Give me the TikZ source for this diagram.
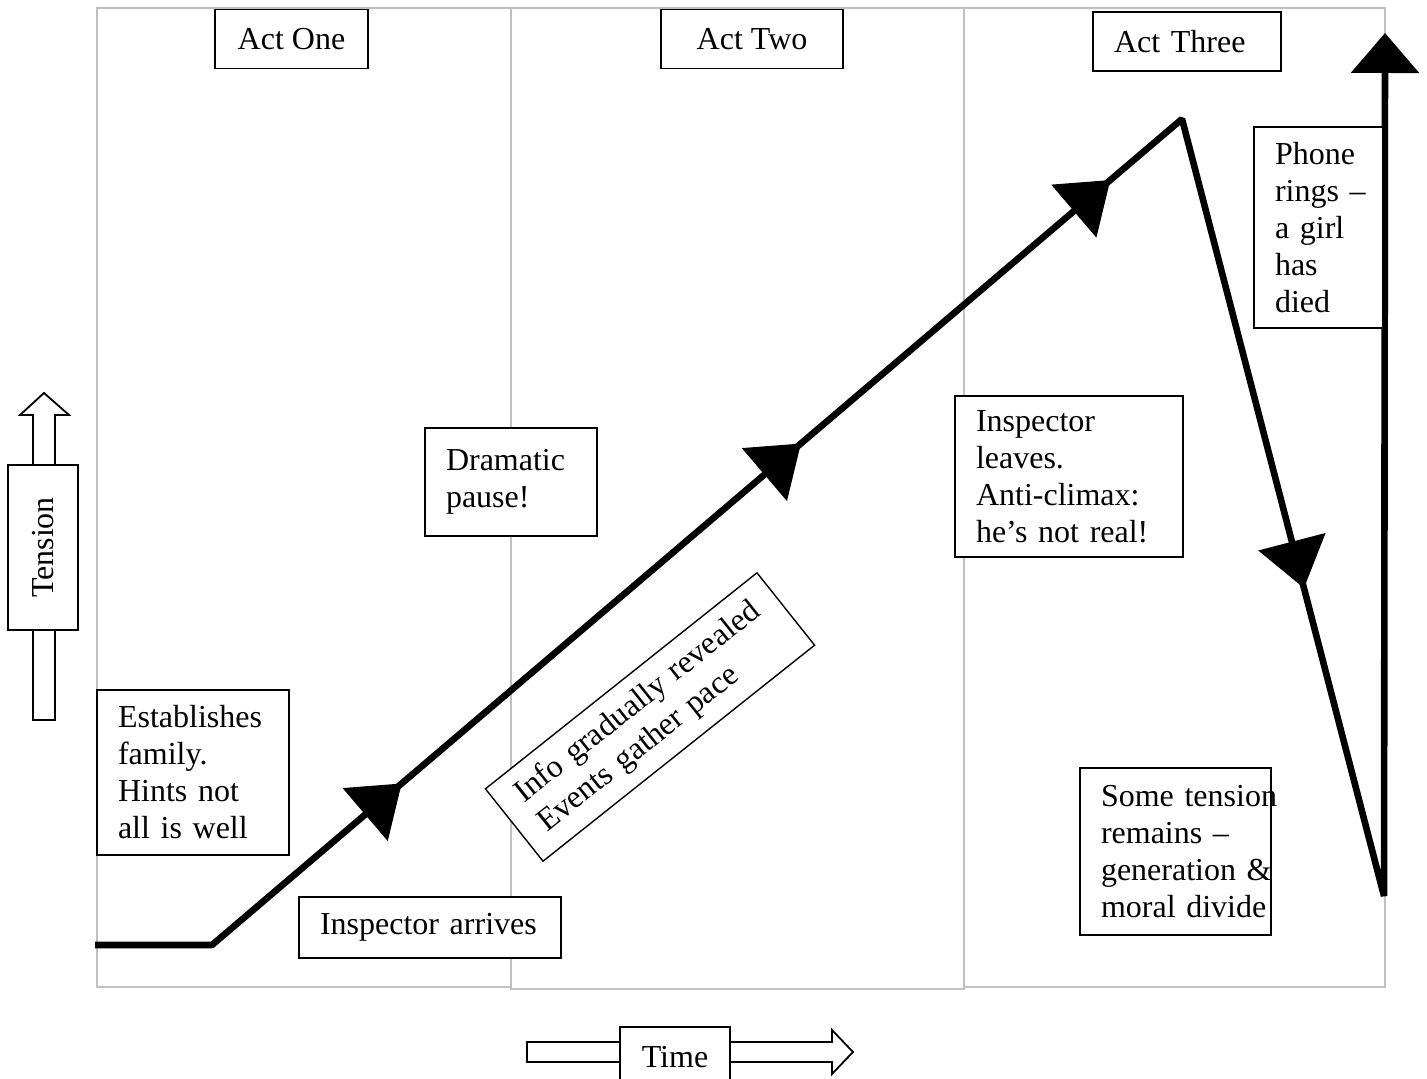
\documentclass[tikz,border=0pt]{standalone}
\usepackage{fontspec}
\setmainfont{Liberation Serif}
\usetikzlibrary{arrows.meta,decorations.markings}
\definecolor{framegray}{HTML}{C0C0C0}
\begin{document}
\begin{tikzpicture}[x=0.5pt,y=-0.5pt,
  frame/.style={draw=framegray, line width=1pt},
  txtbox/.style={draw, line width=0.7pt, fill=white, inner xsep=10.5pt, inner ysep=0pt,
    align=left, font=\fontsize{16}{18.5}\selectfont},
  actbox/.style={txtbox, align=center, minimum height=29.5pt},
  hollow/.style={draw, line width=0.9pt, fill=white, line join=miter},
  mainline/.style={line width=3.3pt, line join=bevel, draw=black,
    -{Triangle[length=20pt,width=33.5pt]},
    decoration={markings,
      mark=at position 183.1pt with {\arrow{Triangle[length=24pt,width=34pt]}},
      mark=at position 445.3pt with {\arrow{Triangle[length=24pt,width=34pt]}},
      mark=at position 648.5pt with {\arrow{Triangle[length=24pt,width=34pt]}},
      mark=at position 937.7pt with {\arrow{Triangle[length=24pt,width=34pt]}}},
    postaction={decorate}}
]
\clip (0,0) rectangle (1427,1079);
% frame columns
\draw[frame] (97,8) rectangle (511,987);
\draw[frame] (964,8) rectangle (1385,987);
\draw[frame] (511,8) rectangle (964,989);

% main tension line
\coordinate (p0) at (95,945);
\coordinate (p1) at (212,945);
\coordinate (p2) at (1182,119);
\coordinate (p3) at (1384,896);
\coordinate (p4) at (1385,33);
\draw[mainline] (p0) -- (p1) -- (p2) -- (p3) -- (p4);

% act labels
\node[actbox, minimum width=76.5pt] (act1) at (291.5,39) {Act One};
\node[actbox, minimum width=91pt] (act2) at (752,39) {Act Two};
\node[actbox, minimum width=94pt, text width=73pt, align=left] (act3) at (1187,41.5) {Act Three};

% text boxes
\node[txtbox, minimum width=64.5pt, minimum height=100.5pt, text width=43.5pt] (phone) at (1318.5,227.5)
  {\mbox{Phone}\\\mbox{rings –}\\\mbox{a girl}\\\mbox{has}\\\mbox{died}};
\node[txtbox, minimum width=86pt, minimum height=54pt, text width=65pt] (pause) at (511,482)
  {\mbox{Dramatic}\\\mbox{pause!}};
\node[txtbox, minimum width=114pt, minimum height=80.5pt, text width=93pt] (leaves) at (1069,476.5)
  {\mbox{Inspector}\\\mbox{leaves.}\\\mbox{Anti-climax:}\\\mbox{he’s not real!}};
\node[txtbox, minimum width=96pt, minimum height=82.5pt, text width=75pt] (est) at (193,772.5)
  {\mbox{Establishes}\\\mbox{family.}\\\mbox{Hints not}\\\mbox{all is well}};
\node[txtbox, minimum width=131pt, minimum height=30.5pt, text width=110pt] (arrives) at (430,927.5)
  {\mbox{Inspector arrives}};
\node[txtbox, minimum width=95.5pt, minimum height=83.5pt, text width=74.5pt] (remains) at (1175.5,851.5)
  {\mbox{Some tension}\\\mbox{remains –}\\\mbox{generation \&}\\\mbox{moral divide}};
\node[txtbox, rotate=38.5, minimum width=173.5pt, minimum height=46.25pt, text width=152.5pt] (info) at (650,717)
  {\mbox{Info gradually revealed}\\\mbox{Events gather pace}};

% Tension axis
\draw[hollow] (33,720) -- (33,415) -- (20,415) -- (44,393) -- (69,415) -- (55,415) -- (55,720) -- cycle;
\node[txtbox, align=center, rotate=90, minimum width=82.5pt, minimum height=35pt] (tension) at (43,547.5) {Tension};

% Time axis
\draw[hollow] (527,1042) -- (832,1042) -- (832,1030) -- (853,1052) -- (832,1074) -- (832,1062) -- (527,1062) -- cycle;
\node[txtbox, align=center, minimum width=55pt, minimum height=30pt] (time) at (675,1057) {Time};
\end{tikzpicture}
\end{document}
